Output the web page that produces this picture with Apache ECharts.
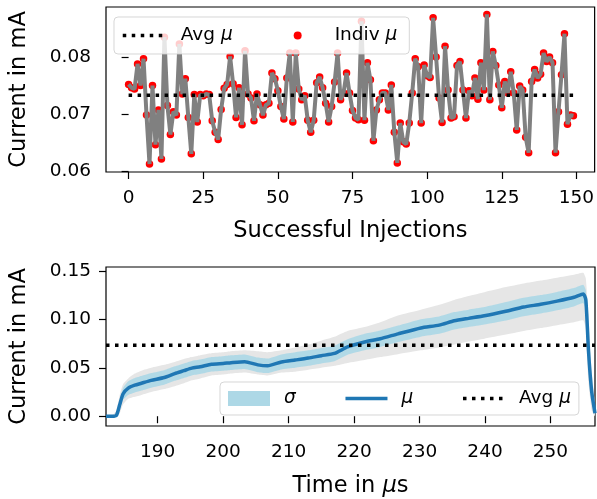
<!DOCTYPE html>
<html>
<head>
<meta charset="utf-8">
<script src="https://cdn.jsdelivr.net/npm/echarts@6/dist/echarts.min.js"></script>
<style>
html, body { margin: 0; padding: 0; background: #fff; }
#container { width: 597px; height: 499px; }
</style>
</head>
<body>
<div id="container"></div>
<script>
// top panel: mean current of each successful injection
var injMu = [
    0.0752, 0.0746, 0.0744, 0.0788, 0.0750, 0.0797, 0.0698, 0.0612, 0.0750, 0.0646,
    0.0707, 0.0621, 0.0835, 0.0715, 0.0664, 0.0704, 0.0698, 0.0823, 0.0735, 0.0762,
    0.0694, 0.0630, 0.0734, 0.0686, 0.0734, 0.0732, 0.0735, 0.0734, 0.0688, 0.0668,
    0.0655, 0.0708, 0.0745, 0.0752, 0.0801, 0.0753, 0.0694, 0.0746, 0.0681, 0.0811,
    0.0735, 0.0728, 0.0688, 0.0735, 0.0716, 0.0698, 0.0716, 0.0719, 0.0772, 0.0762,
    0.0741, 0.0713, 0.0691, 0.0763, 0.0807, 0.0686, 0.0807, 0.0744, 0.0725, 0.0732,
    0.0689, 0.0668, 0.0689, 0.0755, 0.0765, 0.0746, 0.0719, 0.0686, 0.0713, 0.0756,
    0.0807, 0.0725, 0.0737, 0.0772, 0.0737, 0.0706, 0.0693, 0.0690, 0.0863, 0.0689,
    0.0790, 0.0760, 0.0653, 0.0707, 0.0725, 0.0737, 0.0737, 0.0707, 0.0751, 0.0668,
    0.0614, 0.0684, 0.0651, 0.0647, 0.0684, 0.0737, 0.0797, 0.0783, 0.0684, 0.0786,
    0.0767, 0.0764, 0.0869, 0.0800, 0.0728, 0.0685, 0.0819, 0.0742, 0.0693, 0.0695,
    0.0785, 0.0792, 0.0742, 0.0693, 0.0741, 0.0732, 0.0763, 0.0726, 0.0790, 0.0742,
    0.0875, 0.0725, 0.0810, 0.0785, 0.0751, 0.0711, 0.0757, 0.0737, 0.0774, 0.0737,
    0.0672, 0.0749, 0.0742, 0.0659, 0.0632, 0.0757, 0.0778, 0.0763, 0.0770, 0.0807,
    0.0792, 0.0800, 0.0790, 0.0632, 0.0704, 0.0769, 0.0841, 0.0682, 0.0698, 0.0697
];
var avgMu = 0.0733;
var injTicks = [0, 25, 50, 75, 100, 125, 150];
var curTicksTop = [0.06, 0.07, 0.08];

// bottom panel: current over time
var timeUs = [182.1, 183.0, 183.7, 184.2, 184.7, 185.5, 186.5, 187.5, 189, 191,
    192.6, 194, 195.2, 196.5, 198.2, 200, 201.2, 203.3, 205.3, 206.8,
    208.9, 211, 213, 215, 217, 219, 221.6, 224, 226.7, 230.2,
    233, 235.3, 237.5, 239.9, 243, 245.9, 248.5, 251, 253.6, 255.0,
    255.4, 255.8, 256.3, 256.8];
var meanMu = [0, 0, 0.001, 0.012, 0.023, 0.029, 0.032, 0.034, 0.037, 0.040,
    0.044, 0.047, 0.0496, 0.051, 0.0536, 0.0545, 0.0553, 0.0563, 0.0530, 0.0520,
    0.056, 0.058, 0.060, 0.0625, 0.0648, 0.0715, 0.0766, 0.080, 0.085, 0.0911,
    0.094, 0.0985, 0.101, 0.1036, 0.108, 0.1127, 0.1155, 0.1188, 0.1228, 0.1262,
    0.120, 0.068, 0.025, 0.003];
var sigma = [0, 0, 0.001, 0.004, 0.006, 0.007, 0.0075, 0.0075, 0.0075, 0.0075,
    0.0075, 0.0075, 0.0075, 0.0075, 0.0075, 0.0075, 0.0075, 0.0075, 0.0075, 0.0075,
    0.0078, 0.008, 0.008, 0.008, 0.008, 0.008, 0.0085, 0.0085, 0.0085, 0.009,
    0.009, 0.009, 0.009, 0.009, 0.0095, 0.0095, 0.0095, 0.0095, 0.0095, 0.0095,
    0.010, 0.010, 0.006, 0.002];
// envelope of the individual (grey) traces
var traceHi = [0.001, 0.001, 0.006, 0.022, 0.033, 0.039, 0.044, 0.047, 0.050, 0.053,
    0.056, 0.059, 0.061, 0.063, 0.065, 0.066, 0.067, 0.068, 0.067, 0.066,
    0.068, 0.071, 0.074, 0.078, 0.082, 0.088, 0.092, 0.097, 0.104, 0.110,
    0.115, 0.120, 0.124, 0.128, 0.133, 0.137, 0.140, 0.143, 0.146, 0.148,
    0.142, 0.105, 0.045, 0.012];
var traceLo = [0, 0, 0, 0.003, 0.012, 0.018, 0.020, 0.022, 0.025, 0.028,
    0.031, 0.034, 0.037, 0.039, 0.042, 0.043, 0.044, 0.045, 0.043, 0.042,
    0.045, 0.046, 0.048, 0.050, 0.052, 0.055, 0.058, 0.061, 0.064, 0.068,
    0.071, 0.074, 0.077, 0.080, 0.084, 0.088, 0.091, 0.094, 0.097, 0.099,
    0.090, 0.035, 0.006, 0];
var timeTicks = [190, 200, 210, 220, 230, 240, 250];
var curTicksBot = [0, 0.05, 0.10, 0.15];

var FONT = 'DejaVu Sans';
var TICK_FS = 18.5;
var NAME_FS = 22.5;

var injIdx = injMu.map(function (v, i) { return [i, v]; });
var pairs = function (ys) {
    return timeUs.map(function (t, i) { return [t, ys[i]]; });
};

var fmtName = function (name) {
    return name.replace('μ', '{m|μ}').replace('σ', '{m|σ}');
};
var legendText = function (padLeft) {
    return {
        fontFamily: FONT, fontSize: TICK_FS, color: '#000', padding: [0, 0, 0, padLeft],
        rich: { m: { fontFamily: FONT, fontSize: TICK_FS, fontStyle: 'italic', color: '#000' } }
    };
};
var dotted = { color: '#000', width: 3.5, type: [3.5, 5.5] };

function valueAxis(min, max, ticks, dec, name, gap, margin, rich) {
    return {
        type: 'value', min: min, max: max,
        name: name, nameLocation: 'middle', nameGap: gap,
        nameTextStyle: { fontFamily: FONT, fontSize: NAME_FS, color: '#000', rich: rich },
        axisLine: { show: false },
        axisTick: { show: true, length: 7, lineStyle: { color: '#000', width: 1.2 }, customValues: ticks },
        axisLabel: {
            fontFamily: FONT, fontSize: TICK_FS, color: '#000', margin: margin, customValues: ticks,
            formatter: function (v) { return dec ? v.toFixed(dec) : String(v); }
        },
        splitLine: { show: false }
    };
}

// filled band between two curves, drawn through the axes' own coordinates
function band(lo, hi, color, z) {
    return {
        type: 'custom', xAxisIndex: 1, yAxisIndex: 1, z: z, silent: true,
        data: timeUs.map(function (t, i) { return [t, lo[i], hi[i]]; }),
        encode: { x: 0, y: [1, 2] },
        renderItem: function (params, api) {
            if (params.dataIndex !== 0) return null;
            var n = timeUs.length, up = [], dn = [];
            for (var i = 0; i < n; i++) {
                up.push(api.coord([api.value(0, i), api.value(2, i)]));
                dn.unshift(api.coord([api.value(0, i), api.value(1, i)]));
            }
            return {
                type: 'polygon',
                shape: { points: up.concat(dn), smooth: 0.15 },
                style: { fill: color }
            };
        }
    };
}

var bandLo = meanMu.map(function (m, i) { return m - sigma[i]; });
var bandHi = meanMu.map(function (m, i) { return m + sigma[i]; });

var dom = document.getElementById('container');
var myChart = echarts.init(dom, null, { renderer: 'canvas' });

var option = {
    animation: false,
    backgroundColor: '#fff',
    grid: [
        { left: 104, right: 2, top: 7, height: 165, show: true, borderColor: '#000', borderWidth: 1.2 },
        { left: 104, right: 2, top: 267, height: 162, show: true, borderColor: '#000', borderWidth: 1.2 }
    ],
    xAxis: [
        Object.assign(valueAxis(-7.57, 156.1, injTicks, 0, 'Successful Injections', 48, 17), { gridIndex: 0 }),
        Object.assign(valueAxis(182.1, 256.8, timeTicks, 0, 'Time in {m|μ}s', 49, 17,
            { m: { fontFamily: FONT, fontSize: NAME_FS, fontStyle: 'italic', color: '#000' } }), { gridIndex: 1 })
    ],
    yAxis: [
        Object.assign(valueAxis(0.0598, 0.0888, curTicksTop, 2, 'Current in mA', 75, 15), { gridIndex: 0 }),
        Object.assign(valueAxis(-0.0101, 0.154, curTicksBot, 2, 'Current in mA', 75, 15), { gridIndex: 1 })
    ],
    legend: [
        {
            left: 114, top: 17,
            data: [
                { name: 'Avg μ', itemStyle: { opacity: 0 }, lineStyle: dotted },
                { name: 'Indiv μ', icon: 'circle', itemStyle: { color: '#ff0000' } }
            ],
            itemWidth: 42, itemHeight: 8, itemGap: 61,
            padding: [9, 12, 9, 7],
            backgroundColor: 'rgba(255,255,255,0.8)',
            borderColor: 'rgba(204,204,204,0.8)', borderWidth: 1, borderRadius: 4,
            selectedMode: false,
            formatter: fmtName,
            textStyle: legendText(11)
        },
        {
            left: 220, top: 382,
            data: [
                { name: 'σ', icon: 'rect', itemStyle: { color: '#add8e6', borderWidth: 0 } },
                { name: 'μ', itemStyle: { opacity: 0 }, lineStyle: { color: '#1f77b4', width: 3.5 } },
                { name: 'Avg μ', itemStyle: { opacity: 0 }, lineStyle: dotted }
            ],
            itemWidth: 42, itemHeight: 15, itemGap: 48,
            padding: [7, 8, 7, 8],
            backgroundColor: 'rgba(255,255,255,0.8)',
            borderColor: 'rgba(204,204,204,0.8)', borderWidth: 1, borderRadius: 4,
            selectedMode: false,
            formatter: fmtName,
            textStyle: legendText(9)
        }
    ],
    series: [
        {
            name: 'Indiv μ', type: 'scatter', xAxisIndex: 0, yAxisIndex: 0,
            data: injIdx, symbol: 'circle', symbolSize: 7.5,
            itemStyle: { color: '#ff0000', opacity: 1 }, z: 2
        },
        {
            name: 'indiv-line', type: 'line', xAxisIndex: 0, yAxisIndex: 0,
            data: injIdx, symbol: 'none',
            lineStyle: { color: '#808080', width: 4 }, z: 3
        },
        {
            name: 'Avg μ', type: 'line', xAxisIndex: 0, yAxisIndex: 0,
            data: [[0, avgMu], [injMu.length - 1, avgMu]], symbol: 'none',
            lineStyle: dotted, itemStyle: { color: '#000' }, z: 4
        },
        band(traceLo, traceHi, '#e6e6e6', 1),
        Object.assign(band(bandLo, bandHi, 'rgba(173,216,230,0.92)', 2), { name: 'σ', itemStyle: { color: '#add8e6' } }),
        {
            name: 'μ', type: 'line', xAxisIndex: 1, yAxisIndex: 1,
            data: pairs(meanMu), symbol: 'none', smooth: 0.2,
            lineStyle: { color: '#1f77b4', width: 3.5 },
            itemStyle: { color: '#1f77b4' }, z: 3
        },
        {
            name: 'Avg μ', type: 'line', xAxisIndex: 1, yAxisIndex: 1,
            data: [[182.1, avgMu], [256.8, avgMu]], symbol: 'none',
            lineStyle: dotted, itemStyle: { color: '#000' }, z: 4
        }
    ]
};

myChart.setOption(option, true);
</script>
</body>
</html>
